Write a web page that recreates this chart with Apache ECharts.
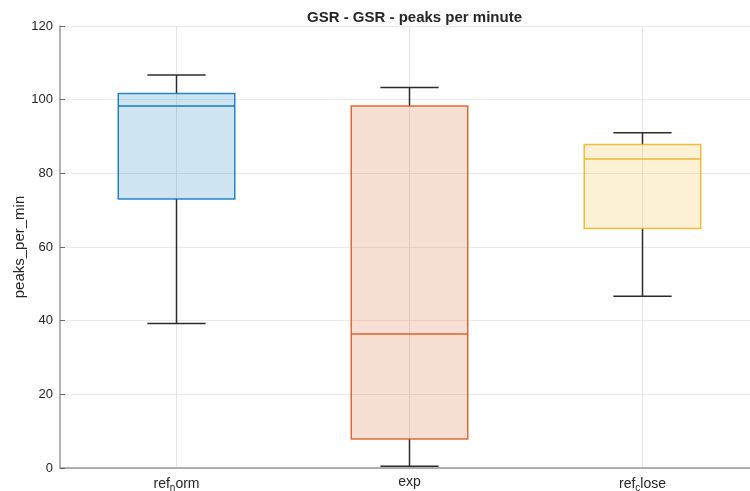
<!DOCTYPE html>
<html>
<head>
<meta charset="utf-8">
<script src="https://cdn.jsdelivr.net/npm/echarts@6/dist/echarts.min.js"></script>
<style>html,body{margin:0;padding:0;background:#fff}#c{width:750px;height:491px}</style>
</head>
<body>
<div id="c"></div>
<script>
var categories = ['ref_norm', 'exp', 'ref_close'];
var whiskerLow = [39.2, 0.5, 46.6];
var q1 = [73.0, 7.9, 65.0];
var median = [98.3, 36.4, 83.9];
var q3 = [101.7, 98.3, 87.8];
var whiskerHigh = [106.7, 103.3, 91.0];
var yTicks = [0, 20, 40, 60, 80, 100, 120];
var colors = ['#0072BD', '#D95319', '#EDB120'];

var data = categories.map(function (c, i) {
  return [i, whiskerLow[i], q1[i], median[i], q3[i], whiskerHigh[i]];
});

function hexA(hex, a) {
  var r = parseInt(hex.slice(1, 3), 16), g = parseInt(hex.slice(3, 5), 16), b = parseInt(hex.slice(5, 7), 16);
  return 'rgba(' + r + ',' + g + ',' + b + ',' + a + ')';
}

var chart = echarts.init(document.getElementById('c'));
chart.setOption({
  animation: false,
  backgroundColor: '#fff',
  title: {
    text: 'GSR - GSR - peaks per minute',
    left: 409.5, textAlign: 'center', top: 5,
    textStyle: {fontFamily: 'Liberation Sans', fontSize: 15, fontWeight: 'bold', color: '#262626'}
  },
  grid: {left: 60, top: 26, bottom: 23, right: -9, containLabel: false, outerBoundsMode: 'none'},
  xAxis: {
    type: 'category',
    data: categories,
    boundaryGap: true,
    axisLine: {lineStyle: {color: '#999', width: 1.5}},
    axisTick: {inside: true, alignWithLabel: true, length: 5, lineStyle: {color: '#666'}},
    splitLine: {show: true, interval: 0, alignWithLabel: true, lineStyle: {color: '#e6e6e6'}},
    axisLabel: {
      margin: 7,
      formatter: function (v) {
        var k = v.indexOf('_');
        if (k < 0) return '{n|' + v + '}';
        return '{n|' + v.slice(0, k) + '}{s|' + v.charAt(k + 1) + '}{n|' + v.slice(k + 2) + '}';
      },
      rich: {
        n: {fontFamily: 'Liberation Sans', fontSize: 14, color: '#262626'},
        s: {fontFamily: 'Liberation Sans', fontSize: 10, color: '#262626', padding: [8, 0, 0, 0]}
      },
      fontFamily: 'Liberation Sans', fontSize: 14, color: '#262626'
    }
  },
  yAxis: {
    type: 'value',
    min: yTicks[0], max: yTicks[yTicks.length - 1], interval: 20,
    name: 'peaks_per_min', nameLocation: 'middle', nameGap: 33, nameRotate: 90,
    nameMoveOverlap: false,
    nameTextStyle: {fontFamily: 'Liberation Sans', fontSize: 15, color: '#262626'},
    axisLine: {show: true, lineStyle: {color: '#999', width: 1.5}},
    axisTick: {show: true, inside: true, length: 5, lineStyle: {color: '#666'}},
    splitLine: {show: true, lineStyle: {color: '#ebebeb'}},
    axisLabel: {fontFamily: 'Liberation Sans', fontSize: 13, color: '#262626', margin: 7}
  },
  series: [{
    type: 'custom',
    data: data,
    encode: {x: 0, y: [1, 2, 3, 4, 5]},
    clip: false,
    renderItem: function (params, api) {
      var i = api.value(0);
      var band = api.size([1, 0])[0];
      var bw = band * 0.5, cw = band * 0.25;
      var pLo = api.coord([i, api.value(1)]);
      var pQ1 = api.coord([i, api.value(2)]);
      var pMed = api.coord([i, api.value(3)]);
      var pQ3 = api.coord([i, api.value(4)]);
      var pHi = api.coord([i, api.value(5)]);
      var x = pQ1[0];
      var col = colors[i];
      var wStyle = {stroke: '#2b2b2b', lineWidth: 1.5};
      return {
        type: 'group',
        children: [
          {type: 'line', shape: {x1: x, y1: pQ1[1], x2: x, y2: pLo[1]}, style: wStyle},
          {type: 'line', shape: {x1: x, y1: pQ3[1], x2: x, y2: pHi[1]}, style: wStyle},
          {type: 'line', shape: {x1: x - cw / 2, y1: pLo[1], x2: x + cw / 2, y2: pLo[1]}, style: wStyle},
          {type: 'line', shape: {x1: x - cw / 2, y1: pHi[1], x2: x + cw / 2, y2: pHi[1]}, style: wStyle},
          {type: 'rect', shape: {x: x - bw / 2, y: pQ3[1], width: bw, height: pQ1[1] - pQ3[1]},
            style: {fill: hexA(col, 0.19), stroke: hexA(col, 0.85), lineWidth: 1.5}},
          {type: 'line', shape: {x1: x - bw / 2, y1: pMed[1], x2: x + bw / 2, y2: pMed[1]},
            style: {stroke: hexA(col, 0.9), lineWidth: 1.5}}
        ]
      };
    }
  }]
});
</script>
</body>
</html>
